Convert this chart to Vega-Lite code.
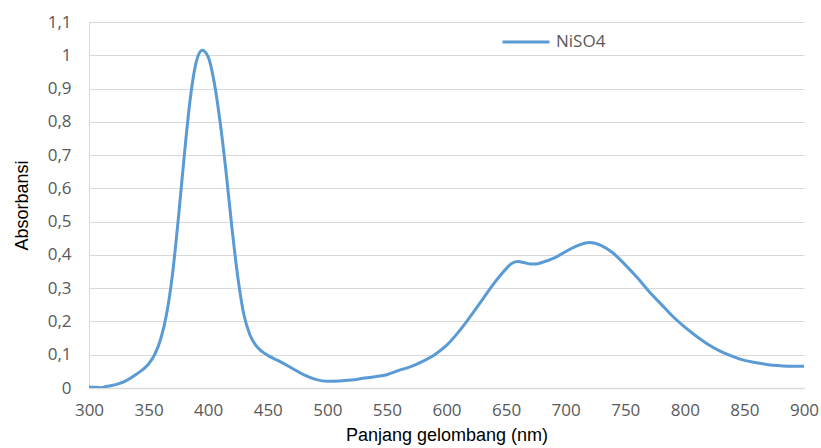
{
  "$schema": "https://vega.github.io/schema/vega-lite/v6.json",
  "width": 715,
  "height": 366,
  "autosize": {"type": "none"},
  "padding": {"left": 89, "top": 22, "right": 17, "bottom": 60},
  "background": "white",
  "config": {"view": {"stroke": null}},
  "data": {
    "values": [
      {"nm": 300, "abs": 0.002, "s": "NiSO4"},
      {"nm": 305, "abs": 0.002, "s": "NiSO4"},
      {"nm": 310, "abs": 0.001, "s": "NiSO4"},
      {"nm": 315, "abs": 0.005, "s": "NiSO4"},
      {"nm": 320, "abs": 0.008, "s": "NiSO4"},
      {"nm": 325, "abs": 0.013, "s": "NiSO4"},
      {"nm": 330, "abs": 0.02, "s": "NiSO4"},
      {"nm": 335, "abs": 0.03, "s": "NiSO4"},
      {"nm": 340, "abs": 0.042, "s": "NiSO4"},
      {"nm": 345, "abs": 0.055, "s": "NiSO4"},
      {"nm": 350, "abs": 0.072, "s": "NiSO4"},
      {"nm": 355, "abs": 0.1, "s": "NiSO4"},
      {"nm": 360, "abs": 0.145, "s": "NiSO4"},
      {"nm": 365, "abs": 0.22, "s": "NiSO4"},
      {"nm": 370, "abs": 0.34, "s": "NiSO4"},
      {"nm": 375, "abs": 0.51, "s": "NiSO4"},
      {"nm": 380, "abs": 0.7, "s": "NiSO4"},
      {"nm": 385, "abs": 0.87, "s": "NiSO4"},
      {"nm": 390, "abs": 0.98, "s": "NiSO4"},
      {"nm": 395, "abs": 1.015, "s": "NiSO4"},
      {"nm": 400, "abs": 0.995, "s": "NiSO4"},
      {"nm": 405, "abs": 0.92, "s": "NiSO4"},
      {"nm": 410, "abs": 0.8, "s": "NiSO4"},
      {"nm": 415, "abs": 0.65, "s": "NiSO4"},
      {"nm": 420, "abs": 0.48, "s": "NiSO4"},
      {"nm": 425, "abs": 0.33, "s": "NiSO4"},
      {"nm": 430, "abs": 0.22, "s": "NiSO4"},
      {"nm": 435, "abs": 0.16, "s": "NiSO4"},
      {"nm": 440, "abs": 0.128, "s": "NiSO4"},
      {"nm": 445, "abs": 0.11, "s": "NiSO4"},
      {"nm": 450, "abs": 0.098, "s": "NiSO4"},
      {"nm": 460, "abs": 0.08, "s": "NiSO4"},
      {"nm": 470, "abs": 0.06, "s": "NiSO4"},
      {"nm": 480, "abs": 0.04, "s": "NiSO4"},
      {"nm": 490, "abs": 0.026, "s": "NiSO4"},
      {"nm": 500, "abs": 0.02, "s": "NiSO4"},
      {"nm": 510, "abs": 0.021, "s": "NiSO4"},
      {"nm": 520, "abs": 0.024, "s": "NiSO4"},
      {"nm": 530, "abs": 0.029, "s": "NiSO4"},
      {"nm": 540, "abs": 0.034, "s": "NiSO4"},
      {"nm": 550, "abs": 0.04, "s": "NiSO4"},
      {"nm": 560, "abs": 0.053, "s": "NiSO4"},
      {"nm": 570, "abs": 0.064, "s": "NiSO4"},
      {"nm": 580, "abs": 0.08, "s": "NiSO4"},
      {"nm": 590, "abs": 0.1, "s": "NiSO4"},
      {"nm": 600, "abs": 0.128, "s": "NiSO4"},
      {"nm": 610, "abs": 0.168, "s": "NiSO4"},
      {"nm": 620, "abs": 0.215, "s": "NiSO4"},
      {"nm": 630, "abs": 0.265, "s": "NiSO4"},
      {"nm": 640, "abs": 0.315, "s": "NiSO4"},
      {"nm": 650, "abs": 0.358, "s": "NiSO4"},
      {"nm": 655, "abs": 0.375, "s": "NiSO4"},
      {"nm": 660, "abs": 0.38, "s": "NiSO4"},
      {"nm": 665, "abs": 0.377, "s": "NiSO4"},
      {"nm": 670, "abs": 0.373, "s": "NiSO4"},
      {"nm": 675, "abs": 0.373, "s": "NiSO4"},
      {"nm": 680, "abs": 0.377, "s": "NiSO4"},
      {"nm": 690, "abs": 0.39, "s": "NiSO4"},
      {"nm": 700, "abs": 0.41, "s": "NiSO4"},
      {"nm": 710, "abs": 0.428, "s": "NiSO4"},
      {"nm": 720, "abs": 0.437, "s": "NiSO4"},
      {"nm": 730, "abs": 0.428, "s": "NiSO4"},
      {"nm": 740, "abs": 0.405, "s": "NiSO4"},
      {"nm": 750, "abs": 0.37, "s": "NiSO4"},
      {"nm": 760, "abs": 0.332, "s": "NiSO4"},
      {"nm": 770, "abs": 0.29, "s": "NiSO4"},
      {"nm": 780, "abs": 0.252, "s": "NiSO4"},
      {"nm": 790, "abs": 0.215, "s": "NiSO4"},
      {"nm": 800, "abs": 0.183, "s": "NiSO4"},
      {"nm": 810, "abs": 0.155, "s": "NiSO4"},
      {"nm": 820, "abs": 0.13, "s": "NiSO4"},
      {"nm": 830, "abs": 0.11, "s": "NiSO4"},
      {"nm": 840, "abs": 0.095, "s": "NiSO4"},
      {"nm": 850, "abs": 0.083, "s": "NiSO4"},
      {"nm": 860, "abs": 0.076, "s": "NiSO4"},
      {"nm": 870, "abs": 0.07, "s": "NiSO4"},
      {"nm": 880, "abs": 0.067, "s": "NiSO4"},
      {"nm": 890, "abs": 0.065, "s": "NiSO4"},
      {"nm": 900, "abs": 0.065, "s": "NiSO4"}
    ]
  },
  "mark": {"type": "line", "interpolate": "monotone", "strokeWidth": 3, "clip": true},
  "encoding": {
    "x": {
      "field": "nm", "type": "quantitative",
      "scale": {"domain": [300, 900], "nice": false},
      "axis": {
        "title": "Panjang gelombang (nm)",
        "values": [300, 350, 400, 450, 500, 550, 600, 650, 700, 750, 800, 850, 900],
        "grid": false, "ticks": false, "domain": true, "domainColor": "#d9d9d9", "domainWidth": 1.5,
        "labelFont": "Open Sans", "labelFontSize": 17, "labelColor": "#595959", "labelPadding": 14,
        "labelFlush": false,
        "titleFont": "Liberation Sans", "titleFontSize": 18, "titleFontWeight": "normal", "titleColor": "#000000", "titlePadding": 8
      }
    },
    "y": {
      "field": "abs", "type": "quantitative",
      "scale": {"domain": [0, 1.1], "nice": false},
      "axis": {
        "title": "Absorbansi",
        "values": [0, 0.1, 0.2, 0.3, 0.4, 0.5, 0.6, 0.7, 0.8, 0.9, 1, 1.1],
        "labelExpr": "replace(format(datum.value, ''), '.', ',')",
        "grid": true, "gridColor": "#d9d9d9", "gridWidth": 1.2,
        "ticks": false, "domain": true, "domainColor": "#d9d9d9",
        "labelFont": "Open Sans", "labelFontSize": 17, "labelColor": "#595959", "labelPadding": 18,
        "titleFont": "Liberation Sans", "titleFontSize": 18, "titleFontWeight": "normal", "titleColor": "#000000", "titlePadding": 16
      }
    },
    "color": {
      "field": "s", "type": "nominal",
      "scale": {"range": ["#5B9BD5"]},
      "legend": {
        "title": null, "orient": "none", "legendX": 412, "legendY": -5,
        "symbolType": "stroke", "symbolSize": 2200, "symbolStrokeWidth": 3,
        "labelFont": "Open Sans", "labelFontSize": 17, "labelColor": "#595959", "labelOffset": 5
      }
    }
  }
}
